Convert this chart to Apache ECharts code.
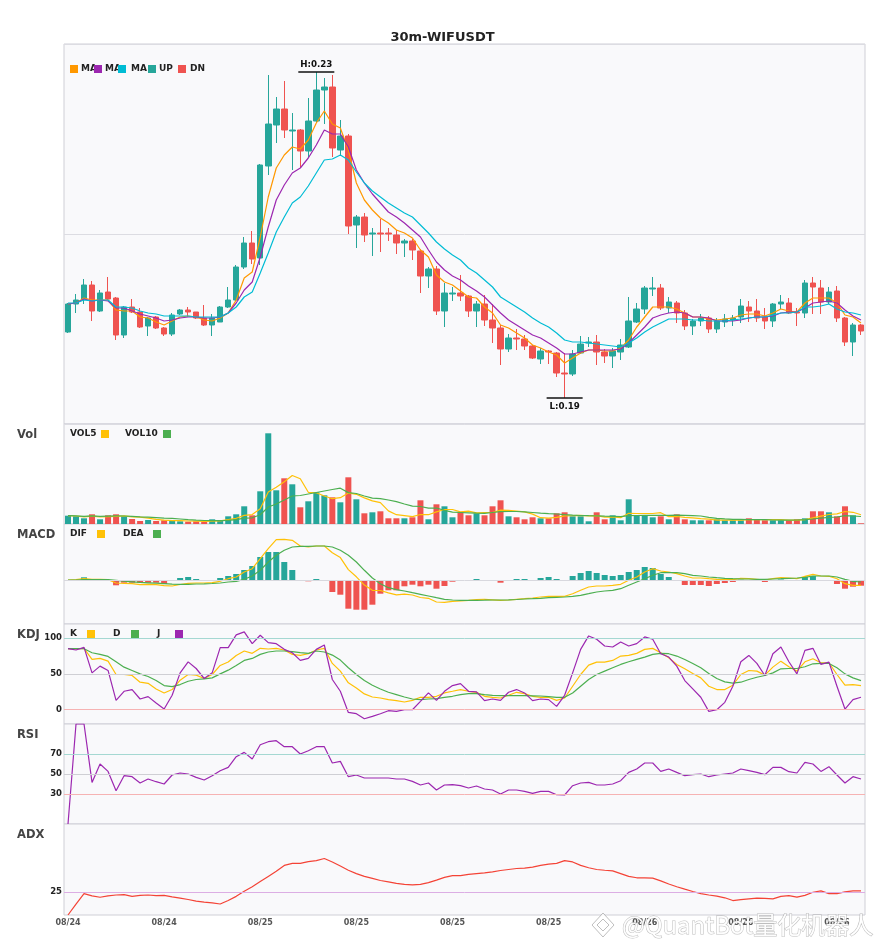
<!DOCTYPE html>
<html lang="en">
<head>
<meta charset="UTF-8">
<title>30m-WIFUSDT</title>
<script src="https://cdn.jsdelivr.net/npm/echarts@6/dist/echarts.min.js"></script>
<style>
    html, body { margin: 0; padding: 0; background: #fff; }
    #main { width: 885px; height: 950px; }
</style>
</head>
<body>
<div id="main"></div>
<script type="text/javascript">
    // candles: [open, close, low, high]
    var candles = [
        [0.2002,0.2030,0.2001,0.2031],[0.2030,0.2034,0.2021,0.2040],[0.2035,0.2049,0.2030,0.2055],[0.2049,0.2023,0.2013,0.2053],[0.2023,0.2041,0.2022,0.2044],
        [0.2042,0.2035,0.2034,0.2057],[0.2036,0.1999,0.1994,0.2037],[0.1999,0.2027,0.1996,0.2028],[0.2027,0.2022,0.2021,0.2035],[0.2022,0.2007,0.2006,0.2026],
        [0.2008,0.2016,0.1998,0.2017],[0.2017,0.2006,0.2005,0.2018],[0.2006,0.2000,0.1998,0.2007],[0.2000,0.2019,0.1998,0.2021],[0.2020,0.2024,0.2019,0.2025],
        [0.2024,0.2022,0.2017,0.2027],[0.2022,0.2016,0.2015,0.2022],[0.2016,0.2009,0.2008,0.2029],[0.2009,0.2016,0.1998,0.2020],[0.2012,0.2027,0.2012,0.2028],
        [0.2027,0.2034,0.2026,0.2047],[0.2034,0.2067,0.2033,0.2069],[0.2067,0.2091,0.2065,0.2097],[0.2091,0.2075,0.2070,0.2103],[0.2076,0.2169,0.2069,0.2170],
        [0.2168,0.2210,0.2159,0.2259],[0.2209,0.2225,0.2191,0.2237],[0.2225,0.2204,0.2196,0.2253],[0.2203,0.2204,0.2164,0.2221],[0.2204,0.2183,0.2167,0.2205],
        [0.2183,0.2213,0.2176,0.2236],[0.2213,0.2244,0.2211,0.2262],[0.2244,0.2247,0.2210,0.2256],[0.2247,0.2186,0.2177,0.2259],[0.2184,0.2198,0.2178,0.2214],
        [0.2198,0.2108,0.2100,0.2200],[0.2109,0.2117,0.2086,0.2119],[0.2117,0.2099,0.2092,0.2121],[0.2100,0.2101,0.2078,0.2106],[0.2101,0.2100,0.2082,0.2115],
        [0.2101,0.2100,0.2093,0.2106],[0.2099,0.2091,0.2080,0.2104],[0.2091,0.2093,0.2077,0.2095],[0.2093,0.2084,0.2074,0.2095],[0.2083,0.2058,0.2041,0.2085],
        [0.2058,0.2065,0.2046,0.2067],[0.2065,0.2023,0.2019,0.2068],[0.2023,0.2041,0.2007,0.2051],[0.2040,0.2041,0.2033,0.2047],[0.2041,0.2038,0.2033,0.2059],
        [0.2038,0.2023,0.2017,0.2039],[0.2023,0.2030,0.2007,0.2033],[0.2030,0.2014,0.2008,0.2039],[0.2014,0.2006,0.1991,0.2030],[0.2006,0.1985,0.1969,0.2009],
        [0.1985,0.1996,0.1982,0.2000],[0.1996,0.1995,0.1984,0.2005],[0.1995,0.1988,0.1984,0.1999],[0.1988,0.1976,0.1975,0.1989],[0.1975,0.1983,0.1970,0.1986],
        [0.1983,0.1982,0.1970,0.1984],[0.1981,0.1961,0.1957,0.1982],[0.1961,0.1960,0.1936,0.1981],[0.1960,0.1980,0.1958,0.1984],[0.1981,0.1990,0.1980,0.1998],
        [0.1991,0.1992,0.1987,0.1997],[0.1992,0.1982,0.1969,0.1999],[0.1982,0.1978,0.1971,0.1985],[0.1978,0.1983,0.1966,0.1986],[0.1982,0.1989,0.1974,0.1995],
        [0.1987,0.2013,0.1986,0.2037],[0.2012,0.2025,0.2011,0.2031],[0.2025,0.2046,0.2020,0.2048],[0.2045,0.2046,0.2038,0.2057],[0.2046,0.2026,0.2024,0.2050],
        [0.2026,0.2032,0.2021,0.2037],[0.2031,0.2021,0.2011,0.2033],[0.2021,0.2008,0.2004,0.2024],[0.2008,0.2013,0.1999,0.2015],[0.2013,0.2016,0.2008,0.2020],
        [0.2016,0.2005,0.2001,0.2018],[0.2005,0.2013,0.2001,0.2016],[0.2012,0.2015,0.2007,0.2020],[0.2014,0.2016,0.2008,0.2019],[0.2017,0.2028,0.2011,0.2035],
        [0.2027,0.2023,0.2012,0.2033],[0.2023,0.2016,0.2012,0.2035],[0.2017,0.2013,0.2005,0.2026],[0.2013,0.2030,0.2007,0.2031],[0.2030,0.2032,0.2025,0.2039],
        [0.2031,0.2021,0.2020,0.2036],[0.2022,0.2021,0.2008,0.2026],[0.2021,0.2051,0.2016,0.2054],[0.2051,0.2047,0.2020,0.2057],[0.2046,0.2032,0.2020,0.2054],
        [0.2032,0.2042,0.2030,0.2047],[0.2043,0.2016,0.2012,0.2048],[0.2016,0.1992,0.1988,0.2017],[0.1992,0.2009,0.1978,0.2011],[0.2009,0.2003,0.1999,0.2010]
    ];

    var ma5 = [
        0.2030,0.2031,0.2036,0.2034,0.2034,0.2034,0.2024,0.2023,0.2023,0.2017,
        0.2016,0.2012,0.2009,0.2013,0.2017,0.2018,0.2017,0.2014,0.2013,0.2016,
        0.2021,0.2034,0.2056,0.2062,0.2097,0.2137,0.2166,0.2179,0.2187,0.2185,
        0.2194,0.2211,0.2223,0.2210,0.2206,0.2184,0.2151,0.2134,0.2124,0.2116,
        0.2111,0.2104,0.2101,0.2096,0.2084,0.2077,0.2059,0.2052,0.2049,0.2043,
        0.2037,0.2036,0.2027,0.2021,0.2009,0.2006,0.2001,0.1996,0.1989,0.1986,
        0.1982,0.1979,0.1971,0.1976,0.1981,0.1984,0.1984,0.1983,0.1983,0.1986,
        0.1994,0.2007,0.2017,0.2027,0.2027,0.2027,0.2025,0.2021,0.2017,0.2017,
        0.2015,0.2014,0.2015,0.2016,0.2019,0.2020,0.2020,0.2018,0.2021,0.2025,
        0.2023,0.2022,0.2031,0.2036,0.2036,0.2036,0.2031,0.2019,0.2017,0.2011
    ];
    var ma10 = [
        0.2030,0.2031,0.2035,0.2033,0.2034,0.2033,0.2026,0.2026,0.2023,0.2020,
        0.2018,0.2016,0.2013,0.2014,0.2016,0.2017,0.2017,0.2016,0.2016,0.2017,
        0.2021,0.2031,0.2044,0.2052,0.2077,0.2107,0.2134,0.2149,0.2161,0.2166,
        0.2176,0.2189,0.2204,0.2200,0.2200,0.2187,0.2164,0.2151,0.2140,0.2131,
        0.2122,0.2117,0.2111,0.2104,0.2097,0.2084,0.2072,0.2064,0.2058,0.2054,
        0.2048,0.2043,0.2037,0.2029,0.2021,0.2014,0.2009,0.2004,0.1999,0.1996,
        0.1991,0.1986,0.1980,0.1980,0.1982,0.1984,0.1984,0.1984,0.1984,0.1985,
        0.1991,0.1999,0.2007,0.2016,0.2019,0.2021,0.2022,0.2021,0.2017,0.2017,
        0.2016,0.2013,0.2013,0.2013,0.2014,0.2016,0.2017,0.2017,0.2018,0.2021,
        0.2022,0.2022,0.2026,0.2031,0.2032,0.2033,0.2031,0.2024,0.2018,0.2014
    ];
    var ma20 = [
        0.2031,0.2031,0.2034,0.2033,0.2034,0.2034,0.2027,0.2027,0.2026,0.2023,
        0.2021,0.2020,0.2018,0.2018,0.2018,0.2018,0.2017,0.2017,0.2017,0.2017,
        0.2021,0.2027,0.2037,0.2042,0.2061,0.2081,0.2102,0.2117,0.2131,0.2137,
        0.2148,0.2161,0.2174,0.2175,0.2179,0.2174,0.2162,0.2151,0.2143,0.2137,
        0.2131,0.2126,0.2121,0.2117,0.2109,0.2101,0.2092,0.2085,0.2079,0.2074,
        0.2066,0.2061,0.2054,0.2047,0.2037,0.2032,0.2027,0.2022,0.2016,0.2011,
        0.2007,0.2001,0.1994,0.1992,0.1992,0.1991,0.1990,0.1989,0.1988,0.1987,
        0.1991,0.1996,0.2002,0.2007,0.2011,0.2015,0.2015,0.2015,0.2014,0.2014,
        0.2013,0.2013,0.2013,0.2014,0.2015,0.2016,0.2017,0.2017,0.2019,0.2021,
        0.2021,0.2022,0.2027,0.2027,0.2028,0.2030,0.2025,0.2022,0.2021,0.2019
    ];

    // volume (x10k)
    var vol = [
        8.3,7.7,5.7,9.7,4.7,8.7,9.7,7.7,5.0,3.0,
        4.0,3.0,3.7,3.3,2.7,2.3,2.7,2.3,4.7,4.0,
        7.7,9.7,17.7,8.7,32.7,90.7,33.7,45.7,39.7,16.7,
        22.7,31.7,28.7,26.7,21.7,46.7,24.7,10.7,11.7,12.7,
        5.7,5.7,5.7,6.7,23.7,4.7,19.7,17.7,6.7,11.7,
        8.7,10.7,8.7,17.7,23.7,7.7,6.7,4.7,6.7,5.7,
        5.7,10.7,11.7,7.7,7.7,2.7,11.7,4.7,8.7,3.7,
        24.7,8.7,8.7,6.7,7.7,4.7,9.7,4.7,3.7,3.7,
        3.7,4.7,3.7,3.7,3.7,5.7,4.7,3.7,3.7,3.7,
        3.7,4.7,5.7,12.7,12.7,11.7,7.7,17.7,8.7,0.7
    ];
    var vol5 = [
        8.3,8.0,7.2,7.9,7.2,7.3,7.7,8.1,7.2,6.8,
        5.9,4.7,3.9,3.4,3.3,3.0,2.9,2.7,2.9,3.2,
        4.3,5.7,8.6,9.4,15.3,31.9,36.7,42.3,48.5,45.3,
        31.7,31.3,28.0,25.3,26.3,31.1,29.7,26.1,23.1,21.3,
        13.1,9.3,8.3,7.3,9.5,9.3,12.1,14.5,14.5,12.1,
        12.9,11.1,11.5,11.5,13.9,13.7,12.9,12.1,9.9,6.3,
        5.9,6.7,8.1,8.3,8.7,8.1,8.3,6.9,7.1,6.3,
        10.7,10.5,10.5,10.5,11.3,7.3,7.5,6.7,6.1,5.3,
        4.9,3.9,3.9,3.9,3.9,4.3,4.3,4.3,4.3,4.3,
        3.9,3.9,4.3,6.1,7.9,9.5,10.1,12.5,11.7,9.3
    ];
    var vol10 = [
        8.3,8.1,7.7,8.1,7.7,7.9,8.1,8.0,7.7,7.2,
        6.8,6.4,5.9,5.6,5.0,4.4,3.9,3.5,3.4,3.3,
        3.7,4.4,5.8,6.2,9.2,17.0,20.0,24.0,28.0,28.5,
        30.0,31.5,33.0,34.5,35.8,31.4,30.5,28.0,25.8,25.4,
        24.0,22.3,20.0,17.8,17.5,15.8,16.0,13.7,11.8,11.5,
        11.2,10.9,10.7,11.5,12.3,12.5,12.5,12.2,11.5,10.8,
        10.3,10.0,9.3,8.8,8.5,8.3,8.2,7.8,7.7,7.3,
        8.3,8.5,8.6,8.7,8.7,8.7,8.8,8.7,8.4,8.0,
        6.7,5.6,5.1,4.7,4.7,4.4,4.4,4.3,4.0,3.9,
        3.9,4.0,4.3,5.0,5.8,6.6,7.0,8.3,8.0,7.5
    ];

    // MACD (x1e-4)
    var dif = [
        0,0.3,1.3,0.7,0.7,0.3,-3,-3.3,-3.7,-4.7,
        -4.3,-4.7,-5.7,-6,-4.5,-3.3,-3,-3,-2.7,-1.3,
        1.3,3,8,11.3,21.3,31.3,40.3,40.7,39.7,34,
        33,34,34,27.3,22.4,10.4,3.2,-5.1,-10.3,-10.5,
        -12.9,-14.9,-14.2,-15,-17.5,-18.3,-22,-22.3,-21.3,-21,
        -20.3,-19.5,-19.3,-19.8,-20.3,-20,-19.3,-18.7,-18,-17,
        -16.3,-16.3,-16.3,-13.7,-10.3,-7,-6,-6,-5.3,-4.3,
        -0.3,3,8,11.3,9,8,6.3,4,2,2,
        1.3,0.7,0.3,0.3,1.7,1.3,0.7,0,1.3,2.3,
        2,1.3,3.7,5.7,4,3.7,1.3,-3.7,-5.3,-5.3
    ];
    var dea = [
        0,0,0.3,0.4,0.5,0.4,-0.4,-1.2,-1.8,-2.4,
        -2.8,-3.2,-3.7,-4.2,-4.4,-4.3,-4,-3.8,-3.5,-3,
        -2,-1.3,0.7,4,9.7,18,24.7,29.7,33,33.7,
        33.7,34,34,33,29.7,24.7,18,9.7,2,-3.7,
        -7.7,-9.7,-11,-12.7,-14.3,-16,-17.7,-19.3,-20,-20.3,
        -20.3,-20.3,-20.2,-20,-20,-19.8,-19.5,-19,-18.7,-18.3,
        -17.7,-17.3,-17,-16.3,-15.3,-13.7,-12,-11,-10.3,-8.7,
        -5.3,-2,1.3,4.7,7.3,7.5,7.3,6.3,4.7,4,
        3,2.3,1.7,1.3,1,1,0.7,0.7,1,1.3,
        1.7,2,2.7,4,4,4,3,0.7,-1.3,-2
    ];
    var macd = [
        0,0,2.7,0,0,0,-5.3,-2.7,-2.7,-2.7,
        -2.7,-2.7,-4,0,2,3,1,0,0,2,
        4,6,10,14,23,28,28,18,10,-0.7,
        -1.3,1,0,-12,-14.7,-28.7,-29.7,-29.7,-24.7,-13.7,
        -10.3,-10.3,-6.3,-4.7,-6.3,-4.7,-8.7,-6,-1.7,0,
        -0.7,1,0,0,-2.7,-0.7,1,1,0,2,
        3,1,0,4,7,9,7,5,4,5,
        8,10,13,12,6,3,-1,-5,-5,-5,
        -6,-4,-3,-2,0.3,0,0,-2,0,0.5,
        0,-1,3,4,0,0,-4,-8.7,-6.7,-5.7
    ];

    var kLine = [
        85.4,85,86,70.4,71.8,68,49.3,49.3,47.9,38.5,
        37,29,23.5,28.2,41.3,49.3,48.4,43.7,49.3,62,
        66.7,76,82.2,78.9,85.9,85,85.9,83.6,77.5,76,
        78.4,83.6,85.9,64.8,54,37.6,30.5,22.1,17.8,16.4,
        14.1,12.7,10.8,13.1,17.4,17.4,18.8,23.5,25.8,28.2,
        25.8,24.4,18.8,17.4,16.4,20.2,24.4,22.5,18.8,17.4,
        17.4,13.1,16.4,32.9,49.3,62.4,66.7,66.7,69,75.1,
        76,78.9,84.5,85.9,79.8,72.8,63.4,57.3,50.7,44.6,
        32.9,28.2,28.2,34.3,49.3,54.9,54,48.4,59.6,68,
        60.1,54,67.1,71.4,65.7,65.7,49.3,34.3,35.2,33.8
    ];
    var dLine = [
        85.4,85.4,85.4,79.8,77.5,74.6,67.1,59.6,54.9,50.2,
        46.5,40.8,33.8,32.4,35.2,39.9,42.3,43.2,44.6,50.2,
        55.4,62,69,71.8,77.5,80.8,82.2,82.2,81.2,79.8,
        78.9,82.2,80.8,76.5,69.5,58.7,49.3,40.8,34.3,29.1,
        24.4,21.1,17.8,15,14.1,15,15.5,17.4,18.8,21.1,
        22.5,22.5,21.1,20.2,19.7,19.7,19.7,19.7,19.5,19.2,
        18.3,17.4,17.4,23.5,32.9,42.3,49.3,54,58.7,63.4,
        67.1,70.4,73.7,77.5,78.9,78.4,75.1,70.4,64.8,58.7,
        50.7,43.7,39,37.1,38.5,42.3,45.5,47.9,51.6,57.3,
        57.7,57.7,60.1,64.3,64.8,64.8,58.7,50.2,44.6,40.8
    ];
    var jLine = [
        85.4,83.6,87.3,51.6,61,55,13.1,25.8,28.2,15,
        18.3,9.4,1,20.2,51.6,67,57.7,43.7,51.6,86.9,
        86.9,104.7,109,92.5,104.2,93.9,92.5,84.5,79.8,69,
        71.8,84.5,90.6,42.3,25.8,-3.8,-5.6,-12.7,-9.4,-5.6,
        -1.4,-2.3,0,0,11.7,23.5,13.1,25.8,33.8,36.6,
        25.8,24.9,12.7,15,13.1,24.4,28.2,23.5,12.7,15,
        14.1,4.7,20.2,51.6,84.5,103.3,98.6,89.2,87.8,94.8,
        89.2,92.5,101.9,98.6,78.4,73.7,61,40.8,29.1,17.4,
        -2.3,0,10.3,32.9,67.1,76,64.8,47.9,78.4,87.8,
        67.1,50.2,83.1,85.9,63.4,66.7,32.9,0.9,14.1,17.4
    ];

    var rsi = [
        0,100,100,41.6,60,52.6,33.3,48.3,47.3,41,
        45,42.3,40,49,51,50,46.6,44,48.3,53.3,
        56.6,67.3,71.6,65,79.3,82.3,83.3,77.3,77.3,70,
        73.3,77.3,77.3,61,62.6,47.3,49,46,46,46,
        46,45,45,42.6,39,41,34,39,39.3,38.3,
        36,38,35,34,30,34,34,32.6,30.6,32.6,
        32.6,29.3,29,38.3,41,41.6,39,39,40,43.3,
        51.6,55,61,61,52.6,55,51.6,48.3,49.3,50,
        47.3,49,50,51,55,53.3,51.6,49.3,56.6,56.6,
        52.3,51,61.6,60,52.6,57.3,49,41,47.3,45
    ];

    var adx = [
        0,12,23.5,21,19.5,21,22,22.3,20.5,21.5,
        22,21.3,21.6,20,18.6,17,15.2,14.2,13.3,12.1,
        15.9,20.5,26.1,31,36.7,42.4,48.1,54.5,56.8,56.8,
        58.7,59.8,62.1,58.3,53.8,49.2,45.5,42.4,40.2,37.9,
        36.4,34.8,33.7,33,33.7,35.6,38.3,41.3,43.2,43.2,
        44.7,45.5,46.2,47.3,48.9,50,51.1,51.5,52.7,54.5,
        56,56.8,59.8,58.3,54.5,51.9,50,49.2,48.5,45.5,
        42.4,40.9,40.9,40.5,37.5,34.1,31.1,28.4,25.8,23.5,
        22,20.8,18.9,15.9,17,17.8,18.6,18.2,17.8,20.5,
        21.2,19.7,21.6,25,26.5,23.5,23.5,25.4,26.5,26.5
    ];

    // 30m bars from 08/24 12:00
    function pad(n) { return n < 10 ? '0' + n : '' + n; }
    var startTime = new Date(2024, 7, 24, 12, 0);
    var times = [];
    for (var i = 0; i < candles.length; i++) {
        var t = new Date(startTime.getTime() + i * 30 * 60000);
        times.push(pad(t.getMonth() + 1) + '/' + pad(t.getDate()) + ' ' + pad(t.getHours()) + ':' + pad(t.getMinutes()));
    }

    var upColor = '#26a69a';
    var downColor = '#ef5350';
    var font = '"DejaVu Sans", sans-serif';

    var panels = [
        {top: 44, height: 380},
        {top: 424, height: 100},
        {top: 524, height: 100},
        {top: 624, height: 100},
        {top: 724, height: 100},
        {top: 824, height: 91}
    ];

    var grids = panels.map(function (p) {
        return {
            left: 64, right: 20, top: p.top, height: p.height,
            show: true, backgroundColor: '#f9f9fb', borderColor: '#cfcfd6', borderWidth: 1
        };
    });

    var xAxes = panels.map(function (p, i) {
        return {
            type: 'category', gridIndex: i, data: times, boundaryGap: true,
            axisLine: {show: false}, axisTick: {show: false}, splitLine: {show: false},
            axisLabel: i === panels.length - 1 ? {
                show: true, interval: 11, margin: 4, fontSize: 8, fontWeight: 'bold', color: '#555', fontFamily: font,
                formatter: function (v) { return v.split(' ')[0]; }
            } : {show: false}
        };
    });

    function hiddenY(i, min, max) {
        return {
            type: 'value', gridIndex: i, min: min, max: max,
            axisLine: {show: false}, axisTick: {show: false}, axisLabel: {show: false}, splitLine: {show: false}
        };
    }
    var yAxes = [
        {
            type: 'value', gridIndex: 0, min: 0.191, max: 0.229, interval: 0.019,
            axisLine: {show: false}, axisTick: {show: false}, axisLabel: {show: false},
            splitLine: {show: true, lineStyle: {color: '#dcdce2'}}
        },
        hiddenY(1, 0, 100),
        hiddenY(2, -44, 56),
        hiddenY(3, -20, 120),
        hiddenY(4, 0, 100),
        hiddenY(5, 0, 100)
    ];

    function refLines(items) {
        return {
            symbol: ['none', 'none'], silent: true, animation: false,
            label: {position: 'start', distance: 2, color: '#222', fontSize: 8.5, fontWeight: 'bold', fontFamily: font},
            lineStyle: {type: 'solid', width: 1},
            data: items.map(function (it) {
                return {yAxis: it[0], lineStyle: {color: it[1]}, label: {show: it[2] !== '', formatter: it[2]}};
            })
        };
    }

    function line(name, data, color, g) {
        return {
            name: name, type: 'line', data: data, xAxisIndex: g, yAxisIndex: g,
            symbol: 'none', smooth: false, lineStyle: {color: color, width: 1.2}, itemStyle: {color: color}, z: 3
        };
    }

    var series = [
        {
            name: 'K', type: 'candlestick', data: candles, xAxisIndex: 0, yAxisIndex: 0, barWidth: 6,
            itemStyle: {color: upColor, color0: downColor, borderColor: upColor, borderColor0: downColor, borderWidth: 1},
            markPoint: {
                symbol: 'rect', symbolSize: [36, 1.5], silent: true, animation: false,
                itemStyle: {color: '#111'},
                label: {fontSize: 8.7, fontWeight: 'bold', color: '#111', fontFamily: font},
                data: [
                    {type: 'max', valueDim: 'highest', label: {position: 'top', distance: 2,
                        formatter: function (p) { return 'H:' + p.value.toFixed(2); }}},
                    {type: 'min', valueDim: 'lowest', label: {position: 'bottom', distance: 3,
                        formatter: function (p) { return 'L:' + p.value.toFixed(2); }}}
                ]
            }
        },
        line('MA5', ma5, '#ff9800', 0),
        line('MA10', ma10, '#9c27b0', 0),
        line('MA20', ma20, '#00bcd4', 0),
        {
            name: 'Vol', type: 'bar', data: vol, xAxisIndex: 1, yAxisIndex: 1, barWidth: 6,
            itemStyle: {color: function (p) {
                var k = candles[p.dataIndex];
                return k[1] >= k[0] ? upColor : downColor;
            }}
        },
        line('VOL5', vol5, '#ffc107', 1),
        line('VOL10', vol10, '#4caf50', 1),
        {
            name: 'MACD', type: 'bar', data: macd, xAxisIndex: 2, yAxisIndex: 2, barWidth: 6,
            itemStyle: {color: function (p) { return p.value >= 0 ? upColor : downColor; }},
            markLine: refLines([[0, '#d8d8de', '']])
        },
        line('DIF', dif, '#ffc107', 2),
        line('DEA', dea, '#4caf50', 2),
        Object.assign(line('K', kLine, '#ffc107', 3), {
            markLine: refLines([[100, '#a5d8d2', '100'], [50, '#cfcfd4', '50'], [0, '#f6b3b3', '0']])
        }),
        line('D', dLine, '#4caf50', 3),
        line('J', jLine, '#9c27b0', 3),
        Object.assign(line('RSI', rsi, '#9c27b0', 4), {
            markLine: refLines([[70, '#a5d8d2', '70'], [50, '#cfcfd4', '50'], [30, '#f6b3b3', '30']])
        }),
        Object.assign(line('ADX', adx, '#f44336', 5), {
            markLine: refLines([[25, '#dcaee4', '25']])
        })
    ];

    // legends and panel names
    function box(x, y, color) {
        return {type: 'rect', shape: {x: x, y: y - 4, width: 8, height: 8}, style: {fill: color}, z: 100};
    }
    function txt(x, y, text, size, color) {
        return {type: 'text', x: x, y: y, z: 100,
            style: {text: text, fill: color || '#222', font: 'bold ' + (size || 9) + 'px ' + font, verticalAlign: 'middle', align: 'left'}};
    }
    var graphics = [
        box(70, 69, '#ff9800'), txt(81, 69, 'MA'),
        box(94, 69, '#9c27b0'), txt(105, 69, 'MA'),
        box(118, 69, '#00bcd4'), txt(131, 69, 'MA'),
        box(148, 69, upColor), txt(159, 69, 'UP'),
        box(178, 69, downColor), txt(190, 69, 'DN'),

        txt(70, 434, 'VOL5'), box(101, 434, '#ffc107'),
        txt(125, 434, 'VOL10'), box(163, 434, '#4caf50'),

        txt(70, 534, 'DIF'), box(97, 534, '#ffc107'),
        txt(123, 534, 'DEA'), box(153, 534, '#4caf50'),

        txt(70, 634, 'K'), box(87, 634, '#ffc107'),
        txt(113, 634, 'D'), box(131, 634, '#4caf50'),
        txt(157, 634, 'J'), box(175, 634, '#9c27b0'),

        txt(17, 435, 'Vol', 11.5, '#444'),
        txt(17, 535, 'MACD', 11.5, '#444'),
        txt(17, 635, 'KDJ', 11.5, '#444'),
        txt(17, 735, 'RSI', 11.5, '#444'),
        txt(17, 835, 'ADX', 11.5, '#444'),

        // watermark
        {type: 'polygon', z: 120, shape: {points: [[603, 913], [614, 925], [603, 937], [592, 925]]},
            style: {fill: 'rgba(255,255,255,0.9)', stroke: 'rgba(110,110,110,0.45)', lineWidth: 1}},
        {type: 'polygon', z: 121, shape: {points: [[603, 919], [609, 925], [603, 931], [597, 925]]},
            style: {fill: 'rgba(255,255,255,0.9)', stroke: 'rgba(110,110,110,0.45)', lineWidth: 1}},
        {type: 'text', x: 622, y: 925, z: 120,
            style: {text: '@QuantBot量化机器人', font: '24px "Noto Sans CJK SC", sans-serif',
                fill: 'rgba(255,255,255,0.92)', stroke: 'rgba(110,110,110,0.45)', lineWidth: 1,
                verticalAlign: 'middle', align: 'left'}}
    ];

    var chart = echarts.init(document.getElementById('main'));
    chart.setOption({
        animation: false,
        backgroundColor: '#fff',
        textStyle: {fontFamily: font},
        title: {
            text: '30m-WIFUSDT', left: 'center', top: 26,
            textStyle: {fontSize: 13, fontWeight: 'bold', color: '#222', fontFamily: font}
        },
        grid: grids,
        xAxis: xAxes,
        yAxis: yAxes,
        series: series,
        graphic: graphics
    });
</script>
</body>
</html>
